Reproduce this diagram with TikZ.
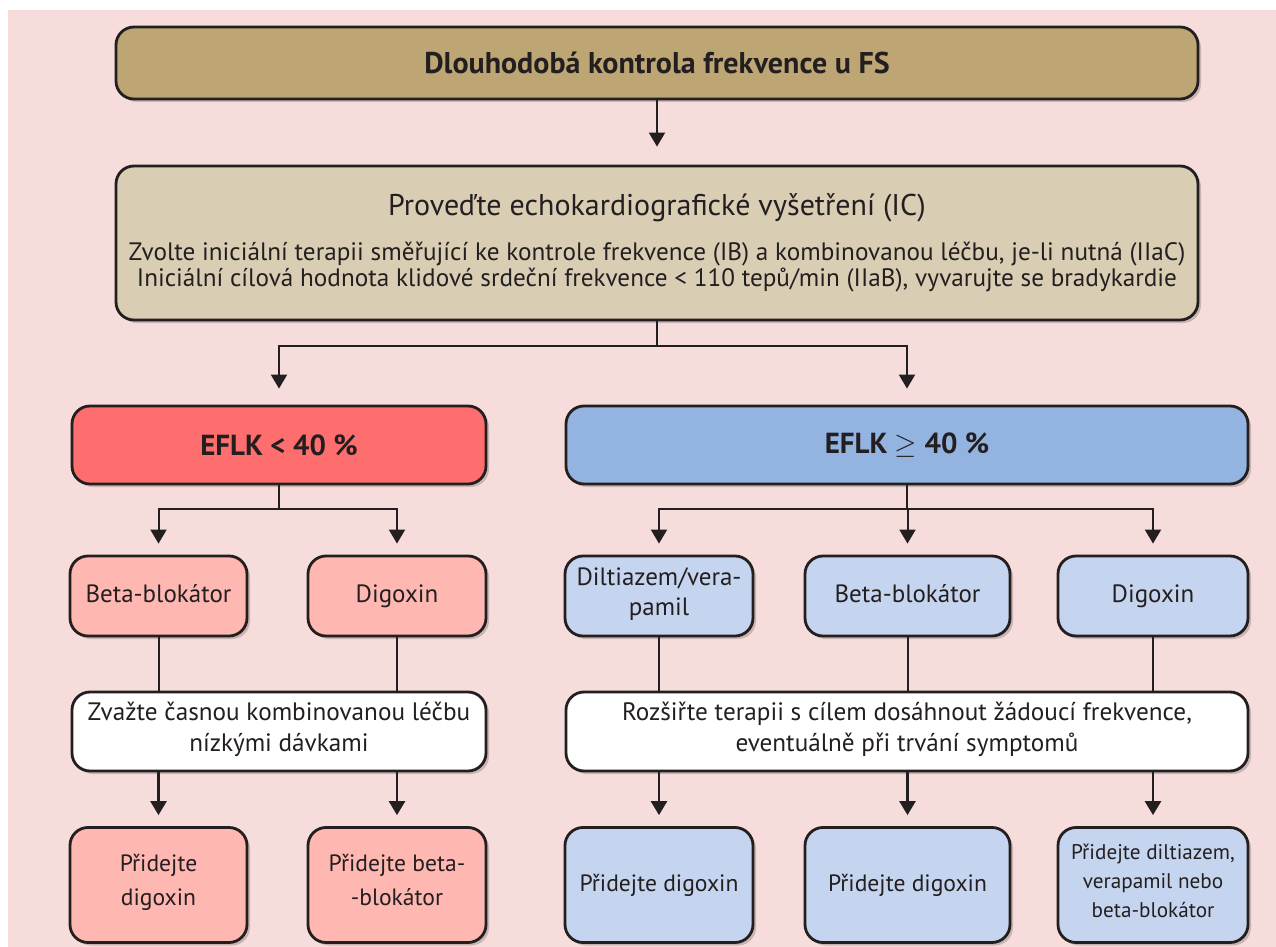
\documentclass[tikz,border=0pt]{standalone}
\usepackage{fontspec}
\setmainfont{PT Sans}
\usetikzlibrary{arrows.meta,shadows}

\definecolor{bgpink}{HTML}{F6DCDA}
\definecolor{linec}{HTML}{231F20}
\definecolor{khaki}{HTML}{BDA674}
\definecolor{sand}{HTML}{D9CDB4}
\definecolor{redbox}{HTML}{FF6E6E}
\definecolor{rosebox}{HTML}{FFB7B1}
\definecolor{bluebox}{HTML}{93B4E1}
\definecolor{skybox}{HTML}{C6D5EF}

\tikzset{
    box/.style={draw=linec, line width=1.4pt, rounded corners=9pt,
        align=center, text=linec, inner sep=2pt,
        drop shadow={shadow xshift=1.5pt, shadow yshift=-1.5pt, opacity=0.18, fill=black}},
    struts/.style={execute at begin node=\strut, execute at end node=\strut},
    conn/.style={draw=linec, line width=1pt},
    arr/.style={conn, -{Triangle[width=8pt,length=7pt]}},
}

\begin{document}
\begin{tikzpicture}[
        x=0.5pt, y=-0.5pt,
    ]
    \fill[white] (0, 0) rectangle (1276, 947);
    \fill[bgpink] (8, 10) rectangle (1276, 947);

    % top boxes
    \node[box, fill=khaki, minimum width=541pt, minimum height=36pt,
        font=\bfseries\fontsize{15}{18}\selectfont] (title) at (657, 63)
        {Dlouhodobá kontrola frekvence u FS};
    \node[box, fill=sand, minimum width=541pt, minimum height=77pt] (echo) at (657, 243)
        {{\fontsize{15}{18}\selectfont Proveďte echokardiografické vyšetření (IC)}\\[9pt]
        {\fontsize{12.6}{13.5}\selectfont Zvolte iniciální terapii směřující ke kontrole frekvence (IB) a kombinovanou léčbu, je-li nutná (IIaC)}\\
        {\fontsize{12.6}{13.5}\selectfont Iniciální cílová hodnota klidové srdeční frekvence < 110 tepů/min (IIaB), vyvarujte se bradykardie}};

    % EF split
    \node[box, fill=redbox, minimum width=207pt, minimum height=39pt,
        font=\bfseries\fontsize{14.5}{17}\selectfont] (low) at (279, 445) {EFLK < 40 \%};
    \node[box, fill=bluebox, minimum width=341pt, minimum height=39pt,
        font=\bfseries\fontsize{14.5}{17}\selectfont] (high) at (907, 445) {EFLK $\geq$ 40 \%};

    % drugs
    \tikzset{drug/.style={box, struts, minimum height=40pt, font=\fontsize{12.5}{15}\selectfont}}
    \node[drug, fill=rosebox, minimum width=88.5pt] (lbeta) at (158.5, 596) {Beta-blokátor};
    \node[drug, fill=rosebox, minimum width=89pt] (ldig) at (397, 596) {Digoxin};
    \node[drug, fill=skybox, minimum width=94pt] (rdil) at (659, 596) {Diltiazem/vera-\\pamil};
    \node[drug, fill=skybox, minimum width=102.5pt] (rbeta) at (907.5, 596) {Beta-blokátor};
    \node[drug, fill=skybox, minimum width=95pt] (rdig) at (1153, 596) {Digoxin};

    % combination advice
    \tikzset{advice/.style={box, struts, fill=white, minimum height=39.5pt, font=\fontsize{12.6}{15.5}\selectfont}}
    \node[advice, minimum width=207pt] (lcomb) at (279, 731.5)
        {Zvažte časnou kombinovanou léčbu\\nízkými dávkami};
    \node[advice, minimum width=341pt] (rcomb) at (907, 731.5)
        {Rozšiřte terapii s cílem dosáhnout žádoucí frekvence,\\eventuálně při trvání symptomů};

    % add-on boxes
    \tikzset{addon/.style={box, struts, minimum height=57.5pt, font=\fontsize{11.8}{17}\selectfont}}
    \node[addon, fill=rosebox, minimum width=88.5pt] (ladd1) at (158.5, 885) {Přidejte\\digoxin};
    \node[addon, fill=rosebox, minimum width=89pt] (ladd2) at (397, 885) {Přidejte beta-\\-blokátor};
    \node[addon, fill=skybox, minimum width=94pt] (radd1) at (659, 885) {Přidejte digoxin};
    \node[addon, fill=skybox, minimum width=102.5pt] (radd2) at (907.5, 885) {Přidejte digoxin};
    \node[addon, fill=skybox, minimum width=95pt, font=\fontsize{10.6}{14.5}\selectfont] (radd3) at (1153, 885)
        {Přidejte diltiazem,\\verapamil nebo\\beta-blokátor};

    % connectors
    \draw[arr, shorten >=9pt] (title) -- (echo);
    \draw[arr, shorten >=8pt] (echo.south) -- ++(0, 25) -| (low.north);
    \draw[arr, shorten >=8pt] (echo.south) -- ++(0, 25) -| (high.north);

    \foreach \n in {lbeta, ldig} {
        \draw[arr, shorten >=5.5pt] (low.south) -- ++(0, 24) -| (\n.north);
        \draw[conn] (\n.south) -- (\n.south |- lcomb.north);
        \draw[arr, line width=1.3pt, shorten >=5.5pt] (\n.south |- lcomb.south) -- (\n.south |- ladd1.north);
    }
    \foreach \n in {rdil, rbeta, rdig} {
        \draw[arr, shorten >=5.5pt] (high.south) -- ++(0, 24) -| (\n.north);
        \draw[conn] (\n.south) -- (\n.south |- rcomb.north);
        \draw[arr, line width=1.3pt, shorten >=5.5pt] (\n.south |- rcomb.south) -- (\n.south |- radd1.north);
    }
\end{tikzpicture}
\end{document}
